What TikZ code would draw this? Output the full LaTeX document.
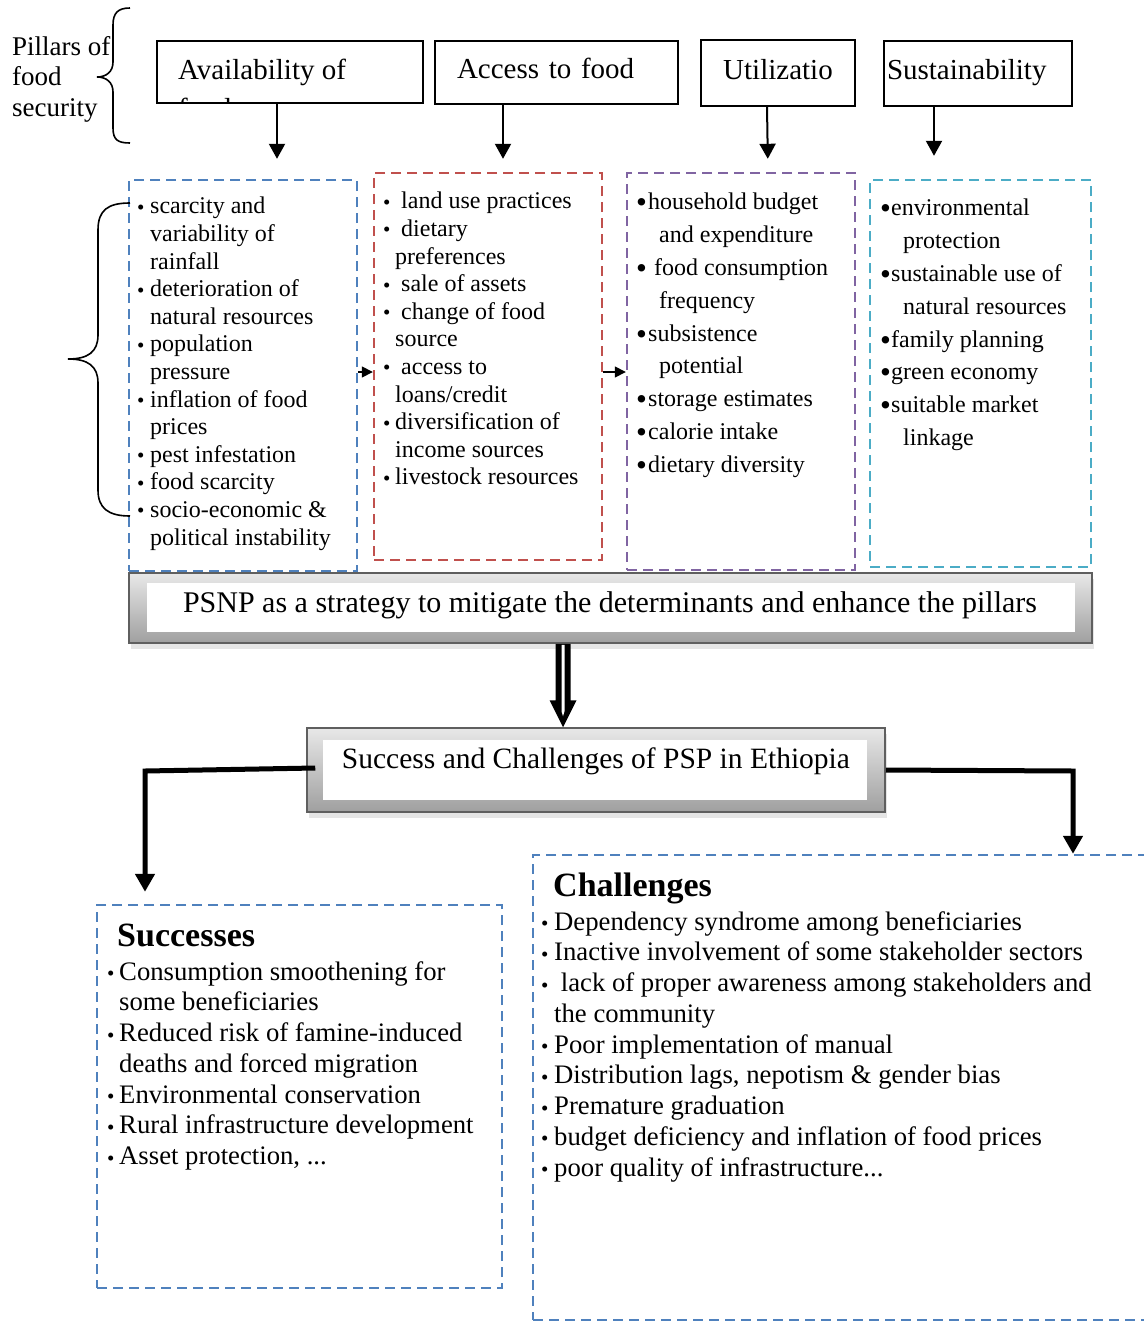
\documentclass[tikz,border=0pt]{standalone}
\usepackage{fontspec}
\setmainfont{Liberation Serif}
\usetikzlibrary{arrows.meta, positioning, calc, shadows}
\definecolor{boxblue}{RGB}{79,129,189}
\definecolor{boxred}{RGB}{192,80,77}
\definecolor{boxpurple}{RGB}{128,100,162}
\definecolor{boxcyan}{RGB}{75,172,198}
\definecolor{framegray}{RGB}{95,95,95}
\newcommand{\smallbul}[1]{\makebox[#1][l]{\raisebox{-0.5pt}{\fontsize{21}{21}\selectfont\textbullet}}}
\newcommand{\bigbul}[1]{\makebox[#1][l]{\raisebox{-3pt}{\fontsize{31}{31}\selectfont\textbullet}}}

\begin{document}
\begin{tikzpicture}[x=1pt, y=-1pt,
  pillar/.style={draw, line width=2pt, font=\fontsize{29}{33}\selectfont,
                 inner ysep=0pt, text height=20pt, text depth=8pt, minimum height=62pt},
  colbox/.style={draw, line width=2.4pt, dash pattern=on 10pt off 6pt, inner sep=0pt},
  lst/.style={anchor=north west, inner sep=0pt, align=left, font=\fontsize{24}{27.6}\selectfont},
  wlst/.style={lst, font=\fontsize{24}{32.8}\selectfont},
  blst/.style={lst, font=\fontsize{26.7}{30.75}\selectfont},
  head/.style={anchor=base west, inner sep=0pt, font=\bfseries\fontsize{34}{38}\selectfont},
  banner/.style={draw=framegray, line width=1.5pt, top color=gray!18, bottom color=gray!75,
                 inner sep=0pt, drop shadow={shadow xshift=2pt, shadow yshift=-6pt, fill=gray!40}},
  panel/.style={fill=white, inner sep=0pt},
  btext/.style={inner sep=0pt, font=\fontsize{30}{34}\selectfont},
  brc/.style={line width=1.6pt},
  parr/.style={line width=2pt, -{Triangle[length=15pt, width=16pt]}},
  sarr/.style={line width=1.5pt, -{Triangle[length=11pt, width=11pt]}},
  bigarr/.style={line width=5pt, -{Triangle[length=18pt, width=19pt]}},
]
\useasboundingbox (0,0) rectangle (1143,1322);

% pillars
\node[anchor=north west, inner sep=0pt, align=left, font=\fontsize{27}{30.5}\selectfont]
  (pillarslbl) at (12,36) {Pillars of\\food\\security};
\draw[brc] (130,8) .. controls (118,8) and (113,13) .. (113,25) -- (113,62)
  .. controls (113,72) and (106,77) .. (97,77) .. controls (106,77) and (113,82) .. (113,92)
  -- (113,128) .. controls (113,140) and (118,143) .. (130,143);

\begin{scope}
  \clip (158,42) rectangle (422,102);
  \node[anchor=north west, inner sep=0pt, align=left, font=\fontsize{29}{33}\selectfont]
    (availtxt) at (178,59) {Availability of\\[6pt]food};
\end{scope}
\node[pillar, minimum width=266pt] (avail) at (290,72) {};
\node[pillar, minimum width=243pt, text width=199pt, inner xsep=22pt, align=left] (access) at (556.5,72.5) {Access to food};
\node[pillar, minimum width=154pt, minimum height=65pt, align=center] (util) at (778,73) {Utilizatio};
\node[pillar, minimum width=188pt, minimum height=65pt, text width=182pt, inner xsep=3pt, align=left] (sustain) at (978,73.5) {Sustainability};

% determinant columns
\node[colbox, draw=boxblue, minimum width=228pt, minimum height=391pt] (col1) at (243,375.5) {};
\node[colbox, draw=boxred, minimum width=228pt, minimum height=387pt] (col2) at (488,366.5) {};
\node[colbox, draw=boxpurple, minimum width=228pt, minimum height=397pt] (col3) at (741,371.5) {};
\node[colbox, draw=boxcyan, minimum width=221pt, minimum height=387pt] (col4) at (980.5,373.5) {};

\node[lst] (col1list) at (137,197) {%
  \smallbul{13pt}scarcity and\\
  \hspace*{13pt}variability of\\
  \hspace*{13pt}rainfall\\
  \smallbul{13pt}deterioration of\\
  \hspace*{13pt}natural resources\\
  \smallbul{13pt}population\\
  \hspace*{13pt}pressure\\
  \smallbul{13pt}inflation of food\\
  \hspace*{13pt}prices\\
  \smallbul{13pt}pest infestation\\
  \smallbul{13pt}food scarcity\\
  \smallbul{13pt}socio-economic \&\\
  \hspace*{13pt}political instability};

\node[lst] (col2list) at (383,192) {%
  \smallbul{12pt}\ land use practices\\
  \smallbul{12pt}\ dietary\\
  \hspace*{12pt}preferences\\
  \smallbul{12pt}\ sale of assets\\
  \smallbul{12pt}\ change of food\\
  \hspace*{12pt}source\\
  \smallbul{12pt}\ access to\\
  \hspace*{12pt}loans/credit\\
  \smallbul{12pt}diversification of\\
  \hspace*{12pt}income sources\\
  \smallbul{12pt}livestock resources};

\node[wlst] (col3list) at (636,193) {%
  \bigbul{12pt}household budget\\
  \hspace*{23pt}and expenditure\\
  \bigbul{12pt}\ food consumption\\
  \hspace*{23pt}frequency\\
  \bigbul{12pt}subsistence\\
  \hspace*{23pt}potential\\
  \bigbul{12pt}storage estimates\\
  \bigbul{12pt}calorie intake\\
  \bigbul{12pt}dietary diversity};

\node[wlst] (col4list) at (880,199) {%
  \bigbul{11pt}environmental\\
  \hspace*{23pt}protection\\
  \bigbul{11pt}sustainable use of\\
  \hspace*{23pt}natural resources\\
  \bigbul{11pt}family planning\\
  \bigbul{11pt}green economy\\
  \bigbul{11pt}suitable market\\
  \hspace*{23pt}linkage};

\draw[brc] (130,203) .. controls (108,203) and (98,210) .. (98,230) -- (98,335)
  .. controls (98,352) and (88,359) .. (68,359) .. controls (88,359) and (98,366) .. (98,383)
  -- (98,490) .. controls (98,508) and (108,516) .. (130,516);

\draw[parr, shorten >=20pt] ([xshift=-13pt]avail.south) -- ([xshift=34pt]col1.north);
\draw[parr, shorten >=13pt] ([xshift=-53.5pt]access.south) -- ([xshift=15pt]col2.north);
\draw[parr, shorten >=13pt] ([xshift=-11pt]util.south) -- ([xshift=27pt]col3.north);
\draw[parr, shorten >=23pt] ([xshift=-44pt]sustain.south) -- ([xshift=-46.5pt]col4.north);

\draw[sarr] ([yshift=3.5pt]col1.east) -- ([yshift=3.5pt]col1.east -| col2.west);
\draw[sarr] ([yshift=-5.5pt]col2.east) -- ([yshift=-5.5pt]col2.east -| col3.west);

% PSNP banner
\node[banner, minimum width=963pt, minimum height=70pt] (psnpframe) at (610.5,608) {};
\node[panel, minimum width=928pt, minimum height=49pt] (psnppanel) at (611,607.5) {};
\node[btext] (psnp) at (610,605) {PSNP as a strategy to mitigate the determinants and enhance the pillars};

% success and challenges banner
\node[banner, minimum width=578pt, minimum height=84pt] (scframe) at (596,770) {};
\node[panel, minimum width=544pt, minimum height=60pt] (scpanel) at (595,770) {};
\node[btext, font=\fontsize{29.5}{34}\selectfont] (sc) at (596,761) {Success and Challenges of PSP in Ethiopia};

\coordinate (dx) at (563,0);
\fill let \p1=(psnpframe.south -| dx), \p2=(scframe.north -| dx) in
  (\x1-7.5pt,\y1) -- (\x1-7.5pt,\y2+27pt) -- (\x1-13.5pt,\y2+27pt) -- (\x2,\y2)
  -- (\x1+13.5pt,\y2+27pt) -- (\x1+7.5pt,\y2+27pt) -- (\x1+7.5pt,\y1) -- cycle;
\fill[white] let \p1=(psnpframe.south -| dx), \p2=(scframe.north -| dx) in
  (\x1-1.5pt,\y1-1pt) -- (\x1-1.5pt,\y2+16pt) -- (\x2,\y2+11pt)
  -- (\x1+1.5pt,\y2+16pt) -- (\x1+1.5pt,\y1-1pt) -- cycle;

% successes and challenges
\node[colbox, draw=boxblue, minimum width=405pt, minimum height=383pt] (succ) at (299.5,1096.5) {};
\node[colbox, draw=boxblue, minimum width=627pt, minimum height=465pt] (chall) at (846.5,1087.5) {};

\coordinate (sl) at (145,771);
\coordinate (sr) at (1073,771);
\draw[bigarr, shorten >=12pt] ([xshift=9pt,yshift=2pt]scframe.west) -- (sl) -- (sl |- succ.north);
\draw[bigarr] (scframe.east) -- (sr) -- (sr |- chall.north);

\node[head] (succhead) at (117,946) {Successes};
\node[blst] (succlist) at (107,961) {%
  \smallbul{12pt}Consumption smoothening for\\
  \hspace*{12pt}some beneficiaries\\
  \smallbul{12pt}Reduced risk of famine-induced\\
  \hspace*{12pt}deaths and forced migration\\
  \smallbul{12pt}Environmental conservation\\
  \smallbul{12pt}Rural infrastructure development\\
  \smallbul{12pt}Asset protection, ...};

\node[head] (challhead) at (553,896) {Challenges};
\node[blst] (challlist) at (541,911) {%
  \smallbul{13pt}Dependency syndrome among beneficiaries\\
  \smallbul{13pt}Inactive involvement of some stakeholder sectors\\
  \smallbul{13pt}\ lack of proper awareness among stakeholders and\\
  \hspace*{13pt}the community\\
  \smallbul{13pt}Poor implementation of manual\\
  \smallbul{13pt}Distribution lags, nepotism \& gender bias\\
  \smallbul{13pt}Premature graduation\\
  \smallbul{13pt}budget deficiency and inflation of food prices\\
  \smallbul{13pt}poor quality of infrastructure...};
\end{tikzpicture}
\end{document}
